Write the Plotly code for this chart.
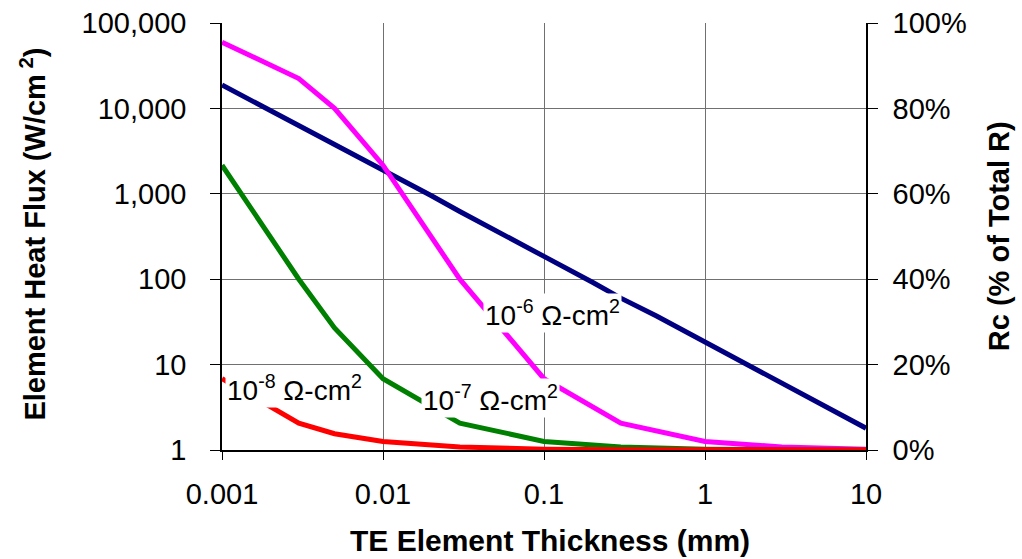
import math
import plotly.graph_objects as go

# ---- data ----
thickness_mm = [0.001, 0.002, 0.003, 0.005, 0.01, 0.02, 0.03, 0.05, 0.1, 0.2, 0.3, 0.5, 1, 2, 3, 5, 10]
heat_flux = [18800, 9500, 6300, 3800, 1900, 950, 620, 375, 185, 92, 60, 37, 18.5, 9.3, 6.2, 3.7, 1.8]

rc_thickness = [0.001, 0.003, 0.005, 0.01, 0.03, 0.1, 0.3, 1, 3, 10]
rc_1e6 = [0.955, 0.870, 0.800, 0.667, 0.400, 0.167, 0.063, 0.020, 0.007, 0.002]
rc_1e7 = [0.667, 0.400, 0.286, 0.167, 0.063, 0.020, 0.007, 0.002, 0.0007, 0.0002]
rc_1e8 = [0.167, 0.063, 0.038, 0.020, 0.007, 0.002, 0.0007, 0.0002, 0.0001, 0.0001]

x_ticks = [0.001, 0.01, 0.1, 1, 10]
x_ticktext = ["0.001", "0.01", "0.1", "1", "10"]
y_ticks = [1, 10, 100, 1000, 10000, 100000]
y_ticktext = ["1", "10", "100", "1,000", "10,000", "100,000"]
y2_ticks = [0, 0.2, 0.4, 0.6, 0.8, 1.0]
y2_ticktext = ["0%", "20%", "40%", "60%", "80%", "100%"]

marker_thickness = 0.0045

FONT = "Liberation Sans, Arial, sans-serif"
LW = 5

fig = go.Figure()
fig.add_trace(go.Scatter(x=thickness_mm, y=heat_flux, mode="lines",
                         line=dict(color="#000080", width=LW), yaxis="y", showlegend=False))
fig.add_trace(go.Scatter(x=rc_thickness, y=rc_1e6, mode="lines",
                         line=dict(color="#FF00FF", width=LW), yaxis="y2", showlegend=False))
fig.add_trace(go.Scatter(x=rc_thickness, y=rc_1e7, mode="lines",
                         line=dict(color="#008000", width=LW), yaxis="y2", showlegend=False))
fig.add_trace(go.Scatter(x=rc_thickness, y=rc_1e8, mode="lines",
                         line=dict(color="#FF0000", width=LW), yaxis="y2", showlegend=False))

tickfont = dict(family=FONT, size=29, color="black")
titlefont = dict(family=FONT, size=29, color="black")

fig.update_layout(
    width=1022, height=559,
    margin=dict(l=222, r=156, t=23, b=109),
    paper_bgcolor="white", plot_bgcolor="white",
    xaxis=dict(type="log", range=[-3, 1], tickvals=x_ticks, ticktext=x_ticktext,
               tickfont=tickfont, showgrid=True, gridcolor="#707070", gridwidth=1,
               showline=True, linecolor="black", linewidth=1.5, automargin=False,
               ticks="outside", ticklen=8, tickcolor="black", ticklabelstandoff=9,
               zeroline=False),
    yaxis=dict(type="log", range=[0, 5], tickvals=y_ticks, ticktext=y_ticktext,
               tickfont=tickfont, showgrid=True, gridcolor="#707070", gridwidth=1,
               showline=True, linecolor="black", linewidth=1.5, automargin=False,
               ticks="outside", ticklen=10, tickcolor="black", ticklabelstandoff=18,
               zeroline=False),
    yaxis2=dict(overlaying="y", side="right", range=[0, 1], tickvals=y2_ticks,
                ticktext=y2_ticktext, tickfont=tickfont, showgrid=False, automargin=False,
                showline=True, linecolor="black", linewidth=1.5,
                ticks="outside", ticklen=10, tickcolor="black", ticklabelstandoff=9,
                zeroline=False),
)

# axis titles
fig.add_annotation(text="<b>Element Heat Flux (W/cm<sup> 2</sup>)</b>", xref="paper", yref="paper",
                   x=-0.294, y=0.506, textangle=-90, showarrow=False, font=titlefont,
                   xanchor="center", yanchor="middle")
fig.add_annotation(text="<b>Rc (% of Total R)</b>", xref="paper", yref="paper",
                   x=1.206, y=0.50, textangle=-90, showarrow=False, font=titlefont,
                   xanchor="center", yanchor="middle")
fig.add_annotation(text="<b>TE Element Thickness (mm)</b>", xref="paper", yref="paper",
                   x=0.509, y=-0.212, showarrow=False,
                   font=dict(family=FONT, size=30, color="black"),
                   xanchor="center", yanchor="middle")

# curve labels
labfont = dict(family=FONT, size=28, color="black")
for txt, xl, yv in [("10<sup>-6</sup> Ω-cm<sup>2</sup>", 0.0418, 0.321),
                    ("10<sup>-7</sup> Ω-cm<sup>2</sup>", 0.0172, 0.122),
                    ("10<sup>-8</sup> Ω-cm<sup>2</sup>", 0.00104, 0.145)]:
    fig.add_annotation(text=txt, x=math.log10(xl), y=yv, xref="x", yref="y2",
                       showarrow=False, font=labfont, xanchor="left", yanchor="middle",
                       bgcolor="white", borderpad=1)

# dashed marker line
lx = math.log10(marker_thickness)
fig.add_shape(type="line", xref="x", yref="paper", x0=lx, x1=lx, y0=0, y1=1,
              line=dict(color="black", width=2, dash="7px,5px"))
fig.add_shape(type="line", xref="x", yref="paper", x0=lx, x1=lx, y0=0, y1=-0.014,
              line=dict(color="black", width=1.5))

fig.write_html("out.html", config={"displayModeBar": False},
               post_script="document.body.style.margin='0';document.body.style.padding='0';")
